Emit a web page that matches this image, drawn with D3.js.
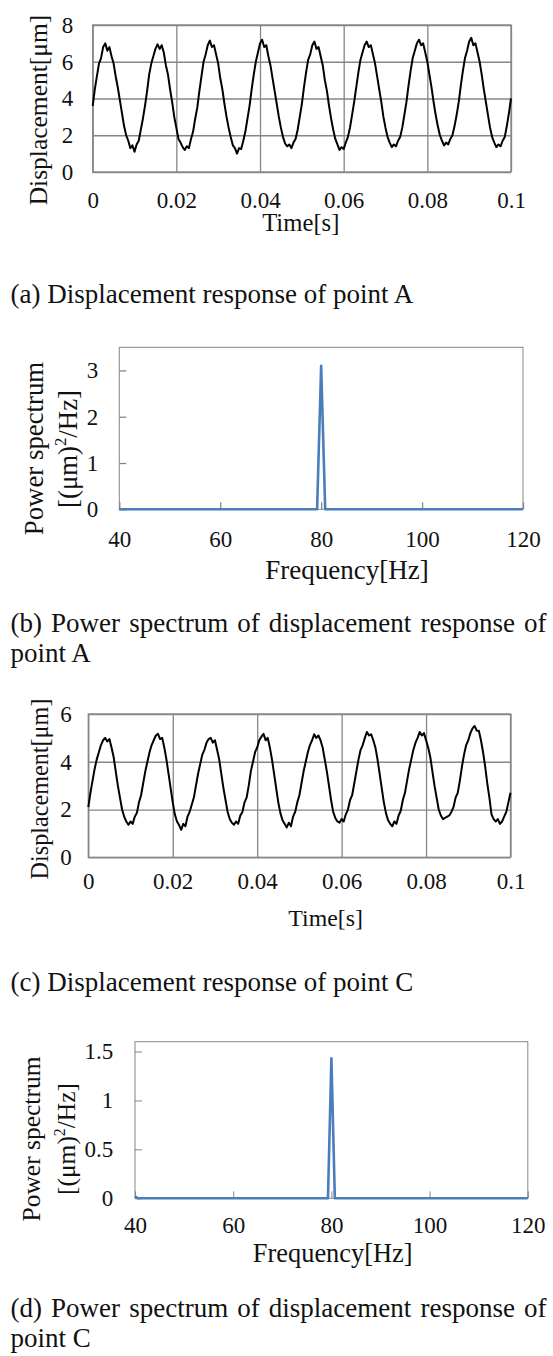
<!DOCTYPE html>
<html>
<head>
<meta charset="utf-8">
<script src="https://cdn.jsdelivr.net/npm/d3@7"></script>
<style>
body { margin: 0; background: #fff; }
svg text { font-family: "Liberation Serif", "Times New Roman", serif; }
</style>
</head>
<body>
<svg id="fig" width="553" height="1356"></svg>
<script>
// sampled displacement, one value every 0.5 ms from 0 to 0.1 s
var sampleStep = 0.0005;

var dispA = [
	3.6, 4.5, 5.2, 5.9, 6.2, 6.8, 7.0, 6.6, 6.8, 6.3, 5.9, 5.2, 4.6, 3.9, 3.2, 2.5, 2.0, 1.7, 1.3, 1.45, 1.1, 1.5, 1.7, 2.3, 2.9,
	3.6, 4.4, 5.3, 5.9, 6.3, 6.7, 6.95, 6.7, 6.9, 6.5, 5.8, 5.3, 4.5, 3.8, 3.0, 2.4, 1.8, 1.6, 1.35, 1.2, 1.4, 1.3, 1.8, 2.2, 2.9,
	3.5, 4.4, 5.2, 6.0, 6.4, 6.9, 7.15, 6.8, 6.9, 6.4, 5.9, 5.1, 4.5, 3.7, 3.0, 2.4, 1.9, 1.45, 1.3, 1.0, 1.3, 1.25, 1.7, 2.2, 2.9,
	3.6, 4.5, 5.3, 6.0, 6.5, 7.0, 7.2, 6.8, 6.9, 6.3, 5.8, 5.1, 4.4, 3.7, 3.0, 2.4, 1.9, 1.55, 1.4, 1.5, 1.3, 1.6, 1.8, 2.3, 3.0,
	3.7, 4.6, 5.4, 6.1, 6.4, 6.9, 7.1, 6.7, 6.8, 6.3, 5.8, 5.0, 4.4, 3.6, 2.9, 2.3, 1.8, 1.5, 1.2, 1.35, 1.25, 1.6, 1.9, 2.4, 3.1,
	3.8, 4.6, 5.4, 6.1, 6.5, 6.9, 7.1, 6.8, 6.9, 6.4, 5.9, 5.2, 4.5, 3.8, 3.0, 2.4, 1.9, 1.6, 1.35, 1.5, 1.4, 1.7, 1.9, 2.4, 3.1,
	3.8, 4.7, 5.5, 6.2, 6.6, 7.0, 7.2, 6.9, 7.0, 6.5, 6.0, 5.3, 4.6, 3.8, 3.1, 2.5, 2.0, 1.7, 1.45, 1.6, 1.5, 1.8, 2.0, 2.5, 3.1,
	3.8, 4.7, 5.5, 6.2, 6.6, 7.1, 7.3, 6.9, 7.0, 6.5, 6.0, 5.3, 4.5, 3.8, 3.1, 2.4, 1.9, 1.6, 1.35, 1.5, 1.4, 1.7, 1.9, 2.5, 3.2,
	4.0
];

var dispC = [
	2.1, 2.7, 3.2, 3.7, 4.1, 4.4, 4.7, 4.9, 5.0, 4.85, 4.95, 4.6, 4.2, 3.6, 3.0, 2.5, 2.0, 1.7, 1.5, 1.36, 1.5, 1.4, 1.7, 1.85, 2.3,
	2.6, 3.1, 3.6, 4.0, 4.4, 4.7, 4.9, 5.1, 5.17, 4.95, 5.0, 4.6, 4.1, 3.5, 2.9, 2.3, 1.8, 1.5, 1.35, 1.15, 1.4, 1.3, 1.7, 1.9, 2.2,
	2.5, 3.0, 3.5, 3.9, 4.3, 4.5, 4.8, 4.95, 5.0, 4.8, 4.9, 4.5, 4.1, 3.5, 2.9, 2.4, 1.9, 1.6, 1.45, 1.36, 1.5, 1.4, 1.75, 1.9, 2.3,
	2.5, 3.0, 3.6, 4.0, 4.4, 4.6, 4.9, 5.05, 5.17, 4.9, 5.0, 4.6, 4.1, 3.5, 2.9, 2.3, 1.85, 1.55, 1.4, 1.25, 1.45, 1.3, 1.7, 1.9, 2.3,
	2.6, 3.1, 3.6, 4.0, 4.4, 4.7, 4.9, 5.15, 5.0, 5.1, 4.9, 4.6, 4.1, 3.6, 3.0, 2.4, 1.9, 1.65, 1.5, 1.45, 1.6, 1.5, 1.8, 2.0, 2.4,
	2.6, 3.1, 3.6, 4.1, 4.5, 4.7, 5.0, 5.25, 5.1, 5.15, 4.9, 4.6, 4.1, 3.5, 2.9, 2.3, 1.85, 1.55, 1.4, 1.3, 1.5, 1.4, 1.75, 1.95, 2.4,
	2.7, 3.2, 3.7, 4.1, 4.5, 4.8, 5.0, 5.25, 5.1, 5.2, 4.9, 4.6, 4.2, 3.6, 3.0, 2.5, 2.0, 1.75, 1.6, 1.65, 1.7, 1.75, 1.9, 2.1, 2.5,
	2.7, 3.2, 3.8, 4.3, 4.7, 4.9, 5.2, 5.4, 5.5, 5.3, 5.3, 4.9, 4.4, 3.8, 3.1, 2.5, 1.8, 1.6, 1.5, 1.6, 1.4, 1.5, 1.7, 1.9, 2.3,
	2.7
];

var timeTicks = [0, 0.02, 0.04, 0.06, 0.08, 0.1];
var timeTickLabels = ['0', '0.02', '0.04', '0.06', '0.08', '0.1'];
var dispTicksA = [0, 2, 4, 6, 8];
var dispTickLabelsA = ['0', '2', '4', '6', '8'];
var dispTicksC = [0, 2, 4, 6];
var dispTickLabelsC = ['0', '2', '4', '6'];

// power spectra (Hz, (um)^2/Hz)
var freqB = [40, 79.2, 80, 80.8, 120];
var psdB = [0, 0, 3.1, 0, 0];
var freqD = [40, 40.6, 79.3, 80, 80.7, 120];
var psdD = [0.02, 0, 0, 1.43, 0, 0];

var freqTicks = [40, 60, 80, 100, 120];
var freqTickLabels = ['40', '60', '80', '100', '120'];
var psdTicksB = [0, 1, 2, 3];
var psdTickLabelsB = ['0', '1', '2', '3'];
var psdTicksD = [0, 0.5, 1, 1.5];
var psdTickLabelsD = ['0', '0.5', '1', '1.5'];

var svg = d3.select('#fig');
var GRID = '#868686';
var INK = '#111';
var BLUE = '#4a7ebb';

function styleAxis(g, size) {
	g.attr('font-size', size).attr('font-family', null).attr('color', GRID);
	g.selectAll('text').attr('fill', INK);
	g.select('.domain').remove();
}

function yTitle(x, y, size, parts) {
	var t = svg.append('text')
		.attr('transform', 'translate(' + x + ',' + y + ') rotate(-90)')
		.attr('text-anchor', 'middle')
		.attr('font-size', size)
		.attr('fill', INK);
	parts.forEach(function(p) {
		var s = t.append('tspan').text(p.text);
		if (p.sup) { s.attr('font-size', size * 0.62).attr('dy', -size * 0.38); }
		if (p.down) { s.attr('dy', size * 0.38); }
	});
}

function xTitle(x, y, size, text) {
	svg.append('text')
		.attr('x', x).attr('y', y)
		.attr('text-anchor', 'middle')
		.attr('font-size', size)
		.attr('fill', INK)
		.text(text);
}

function labelsFrom(list) {
	return function(d, i) { return list[i]; };
}

function drawWave(p) {
	var x = d3.scaleLinear().domain([0, 0.1]).range([p.left, p.right]);
	var y = d3.scaleLinear().domain([0, p.yMax]).range([p.bottom, p.top]);
	var h = p.bottom - p.top, w = p.right - p.left;

	var gx = svg.append('g').attr('transform', 'translate(0,' + p.bottom + ')')
		.call(d3.axisBottom(x).tickValues(timeTicks).tickFormat(labelsFrom(timeTickLabels))
			.tickSizeInner(-h).tickSizeOuter(0).tickPadding(p.xPad));
	styleAxis(gx, 23);

	var gy = svg.append('g').attr('transform', 'translate(' + p.left + ',0)')
		.call(d3.axisLeft(y).tickValues(p.yTicks).tickFormat(labelsFrom(p.yLabels))
			.tickSizeInner(-w).tickSizeOuter(0).tickPadding(p.yPad));
	styleAxis(gy, 23);

	svg.selectAll('.tick line').attr('stroke-width', 1.3);

	svg.append('rect')
		.attr('x', p.left).attr('y', p.top)
		.attr('width', w).attr('height', h)
		.attr('fill', 'none').attr('stroke', GRID).attr('stroke-width', 1.3);

	var line = d3.line()
		.x(function(d, i) { return x(i * sampleStep); })
		.y(function(d) { return y(d); });

	svg.append('path')
		.datum(p.values)
		.attr('d', line)
		.attr('fill', 'none')
		.attr('stroke', '#000')
		.attr('stroke-width', 2)
		.attr('stroke-linejoin', 'round');
}

function drawSpectrum(p) {
	var x = d3.scaleLinear().domain([40, 120]).range([p.left, p.right]);
	var y = d3.scaleLinear().domain([0, p.yMax]).range([p.bottom, p.top]);
	var h = p.bottom - p.top, w = p.right - p.left;

	var gx = svg.append('g').attr('transform', 'translate(0,' + p.bottom + ')')
		.call(d3.axisBottom(x).tickValues(freqTicks).tickFormat(labelsFrom(freqTickLabels))
			.tickSizeInner(-7).tickSizeOuter(0).tickPadding(p.xPad));
	styleAxis(gx, 23);

	var gy = svg.append('g').attr('transform', 'translate(' + p.left + ',0)')
		.call(d3.axisLeft(y).tickValues(p.yTicks).tickFormat(labelsFrom(p.yLabels))
			.tickSizeInner(-7).tickSizeOuter(0).tickPadding(p.yPad));
	styleAxis(gy, 23);

	svg.append('rect')
		.attr('x', p.left).attr('y', p.top)
		.attr('width', w).attr('height', h)
		.attr('fill', 'none').attr('stroke', GRID).attr('stroke-width', 1);

	var line = d3.line()
		.x(function(d, i) { return x(p.freq[i]); })
		.y(function(d) { return y(d); });

	svg.append('path')
		.datum(p.values)
		.attr('d', line)
		.attr('fill', 'none')
		.attr('stroke', BLUE)
		.attr('stroke-width', 2.6)
		.attr('stroke-linejoin', 'round');
}

function caption(y, text) {
	svg.append('text')
		.attr('x', 10.5).attr('y', y)
		.attr('font-size', 27)
		.attr('fill', INK)
		.text(text);
}

// justified caption line, spread between x0 and x1
function captionJustified(y, text, x0, x1) {
	var words = text.split(' ');
	var nodes = words.map(function(wd) {
		return svg.append('text').attr('y', y).attr('font-size', 27).attr('fill', INK).text(wd);
	});
	var widths = nodes.map(function(n) { return n.node().getComputedTextLength(); });
	var gap = (x1 - x0 - d3.sum(widths)) / (words.length - 1);
	var cx = x0;
	nodes.forEach(function(n, i) {
		n.attr('x', cx);
		cx += widths[i] + gap;
	});
}

// (a)
drawWave({ left: 92.7, right: 511, top: 25, bottom: 172, yMax: 8,
	yTicks: dispTicksA, yLabels: dispTickLabelsA,
	xPad: 19.5, yPad: 19.5, values: dispA });
yTitle(46.5, 110, 25.5, [{ text: 'Displacement[μm]' }]);
xTitle(300.8, 231, 24.7, 'Time[s]');
caption(303, '(a) Displacement response of point A');

// (b)
drawSpectrum({ left: 119.3, right: 523, top: 347.3, bottom: 509.3, yMax: 3.5,
	yTicks: psdTicksB, yLabels: psdTickLabelsB,
	xPad: 21, yPad: 21, freq: freqB, values: psdB });
yTitle(42.5, 448.5, 26.8, [{ text: 'Power spectrum' }]);
yTitle(76.5, 449, 26.8, [{ text: '[(μm)' }, { text: '2', sup: true }, { text: '/Hz]', down: true }]);
xTitle(347, 579, 27, 'Frequency[Hz]');
captionJustified(632, '(b) Power spectrum of displacement response of', 10.5, 546.5);
caption(662, 'point A');

// (c)
drawWave({ left: 88.3, right: 510.5, top: 714, bottom: 857.3, yMax: 6,
	yTicks: dispTicksC, yLabels: dispTickLabelsC,
	xPad: 15.5, yPad: 16.5, values: dispC });
yTitle(47.5, 789, 24.2, [{ text: 'Displacement[μm]' }]);
xTitle(325.6, 926, 23.8, 'Time[s]');
caption(990.7, '(c) Displacement response of point C');

// (d)
drawSpectrum({ left: 135, right: 527.8, top: 1041.7, bottom: 1198.3, yMax: 1.6,
	yTicks: psdTicksD, yLabels: psdTickLabelsD,
	xPad: 18.7, yPad: 21.7, freq: freqD, values: psdD });
yTitle(40, 1139, 25.5, [{ text: 'Power spectrum' }]);
yTitle(75, 1139, 25.5, [{ text: '[(μm)' }, { text: '2', sup: true }, { text: '/Hz]', down: true }]);
xTitle(332.7, 1262, 26.4, 'Frequency[Hz]');
captionJustified(1317, '(d) Power spectrum of displacement response of', 10.5, 546.5);
caption(1347, 'point C');
</script>
</body>
</html>
